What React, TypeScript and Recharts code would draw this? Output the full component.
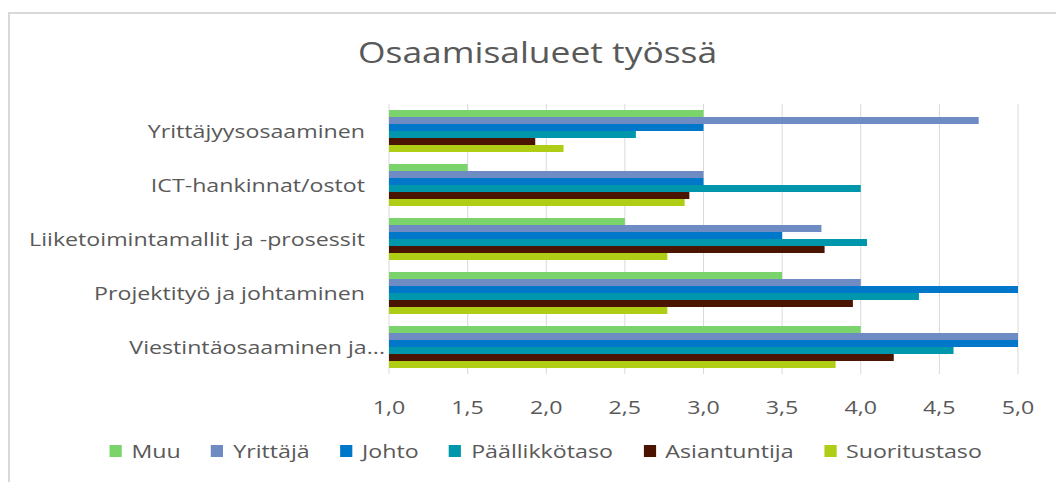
import { Bar, BarChart, CartesianGrid, Legend, XAxis, YAxis } from "recharts";

const categories = [
  "Yrittäjyysosaaminen",
  "ICT-hankinnat/ostot",
  "Liiketoimintamallit ja -prosessit",
  "Projektityö ja johtaminen",
  "Viestintäosaaminen ja...",
];

const muu = [3.0, 1.5, 2.5, 3.5, 4.0];
const yrittaja = [4.75, 3.0, 3.75, 4.0, 5.0];
const johto = [3.0, 3.0, 3.5, 5.0, 5.0];
const paallikkotaso = [2.57, 4.0, 4.04, 4.37, 4.59];
const asiantuntija = [1.93, 2.91, 3.77, 3.95, 4.21];
const suoritustaso = [2.11, 2.88, 2.77, 2.77, 3.84];

const xTicks = [1, 1.5, 2, 2.5, 3, 3.5, 4, 4.5, 5];

const SERIES = [
  { key: "Muu", values: muu, color: "#7AD36B" },
  { key: "Yrittäjä", values: yrittaja, color: "#6F8BC4" },
  { key: "Johto", values: johto, color: "#0077C8" },
  { key: "Päällikkötaso", values: paallikkotaso, color: "#0097AD" },
  { key: "Asiantuntija", values: asiantuntija, color: "#4A1400" },
  { key: "Suoritustaso", values: suoritustaso, color: "#AECD14" },
];

const data = categories.map((name, i) => {
  const row: Record<string, string | number> = { name };
  SERIES.forEach((s) => {
    row[s.key] = s.values[i];
  });
  return row;
});

const FONT = "'Open Sans', sans-serif";
const TEXT = "#595959";
const STRETCH = 1.22;

function CategoryTick({ x, y, payload }: any) {
  // the cut-off label runs a bit closer to the axis in the original
  const shift = String(payload.value).endsWith("...") ? 20 : 0;
  return (
    <g transform={`translate(${x + shift},${y})`}>
      <text
        transform={`scale(${STRETCH},1)`}
        textAnchor="end"
        dy="0.35em"
        fontSize={19}
        fontFamily={FONT}
        fill={TEXT}
      >
        {payload.value}
      </text>
    </g>
  );
}

function ValueTick({ x, y, payload }: any) {
  return (
    <g transform={`translate(${x},${y + 33})`}>
      <text
        transform={`scale(${STRETCH},1)`}
        textAnchor="middle"
        dy="0.35em"
        fontSize={19}
        fontFamily={FONT}
        fill={TEXT}
      >
        {Number(payload.value).toFixed(1).replace(".", ",")}
      </text>
    </g>
  );
}

// legend keeps the series order (recharts sorts it by name otherwise)
function renderLegend() {
  return (
    <div
      style={{
        width: 1056,
        height: 30,
        display: "flex",
        alignItems: "center",
        justifyContent: "center",
        gap: 25,
        paddingLeft: 29,
        boxSizing: "border-box",
        transform: `scaleX(${STRETCH})`,
        transformOrigin: "528px 50%",
        fontFamily: FONT,
        fontSize: 19,
        color: TEXT,
      }}
    >
      {SERIES.map((s) => (
        <div key={s.key} style={{ display: "flex", alignItems: "center" }}>
          <span
            style={{
              display: "inline-block",
              width: 10,
              height: 12,
              background: s.color,
              marginRight: 8,
            }}
          />
          <span>{s.key}</span>
        </div>
      ))}
    </div>
  );
}

export default function App() {
  return (
    <div
      style={{
        position: "relative",
        width: 1056,
        height: 482,
        overflow: "hidden",
        background: "#fff",
      }}
    >
      <style>{`body{margin:0}`}</style>
      <div
        style={{
          position: "absolute",
          left: 8,
          top: 12,
          width: 1100,
          height: 520,
          borderLeft: "2px solid #d9d9d9",
          borderTop: "2px solid #d9d9d9",
        }}
      />
      <div
        style={{
          position: "absolute",
          top: 37,
          left: 0,
          width: 1056,
          textAlign: "center",
          fontFamily: FONT,
          fontSize: 29,
          lineHeight: "29px",
          color: TEXT,
          transform: `scaleX(${STRETCH})`,
          transformOrigin: "540px 50%",
          paddingLeft: 20,
          boxSizing: "border-box",
        }}
      >
        Osaamisalueet työssä
      </div>
      <BarChart
        width={1056}
        height={482}
        data={data}
        layout="vertical"
        margin={{ top: 104, right: 38, left: 0, bottom: 16 }}
        barCategoryGap="11%"
        barGap={0}
      >
        <CartesianGrid horizontal={false} stroke="#d9d9d9" />
        <XAxis
          type="number"
          domain={[1, 5]}
          ticks={xTicks}
          height={62}
          axisLine={false}
          tickLine={false}
          tickSize={0}
          tickMargin={0}
          tick={<ValueTick />}
          interval={0}
        />
        <YAxis
          type="category"
          dataKey="name"
          width={389}
          axisLine={false}
          tickLine={false}
          tickSize={0}
          tickMargin={24}
          tick={<CategoryTick />}
          interval={0}
        />
        <Legend verticalAlign="bottom" content={renderLegend} />
        {SERIES.map((s) => (
          <Bar
            key={s.key}
            dataKey={s.key}
            fill={s.color}
            isAnimationActive={false}
          />
        ))}
      </BarChart>
    </div>
  );
}
